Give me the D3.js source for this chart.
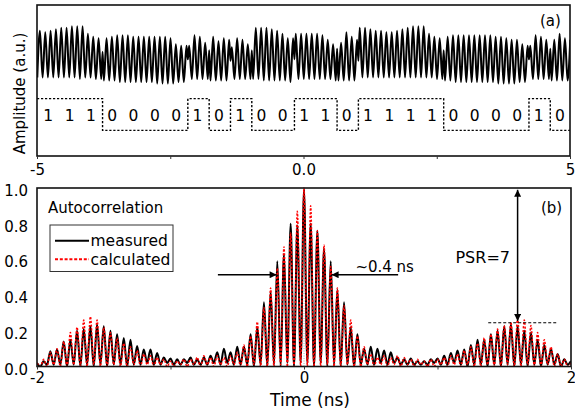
<!DOCTYPE html>
<html><head><meta charset="utf-8">
<script src="https://cdn.jsdelivr.net/npm/d3@7"></script>
<style>
body{margin:0;background:#fff}
svg{display:block}
text{font-family:"DejaVu Sans",sans-serif;fill:#000}
</style>
</head><body>
<svg id="c" width="575" height="416"></svg>
<script>
// ---------------- DATA ----------------
// (a) bit pattern (BPSK code) and carrier waveform
const bits = [1,1,1,0,0,0,0,1,0,1,0,0,1,1,0,1,1,1,1,0,0,0,0,1,0];
const bitStart = -4.97;      // ns, start of first bit
const bitDur = 0.4;          // ns per bit
const cyclesPerBit = 4;      // carrier cycles per bit
const waveLead = 0.52;       // level before first crest
// upper extremum of each carrier cycle (a.u.)
const waveUpper = [
 0.83,0.82,0.83,0.84, 0.85,0.85,0.86,0.86, 0.86,0.81,0.79,0.78, 0.78,0.79,0.80,0.80, 0.80,0.79,0.79,0.79,
 0.79,0.79,0.79,0.79, 0.78,0.74,0.73,0.73, 0.73,0.80,0.79,0.75, 0.79,0.76,0.78,0.77, 0.72,0.78,0.77,0.74,
 0.85,0.85,0.85,0.84, 0.83,0.81,0.78,0.78, 0.81,0.81,0.81,0.81, 0.81,0.80,0.77,0.74, 0.75,0.82,0.79,0.77,
 0.85,0.85,0.84,0.83, 0.83,0.82,0.82,0.83, 0.84,0.85,0.86,0.86, 0.86,0.81,0.79,0.78, 0.79,0.80,0.80,0.80,
 0.80,0.80,0.80,0.80, 0.80,0.79,0.79,0.78, 0.77,0.77,0.74,0.73, 0.73,0.80,0.79,0.77, 0.77,0.81,0.78,0.77
];
// lower extremum of each carrier cycle (a.u.)
const waveLower = [
 0.52,0.52,0.52,0.52, 0.52,0.52,0.52,0.51, 0.52,0.52,0.51,0.51, 0.50,0.50,0.50,0.49, 0.49,0.49,0.49,0.49,
 0.49,0.49,0.48,0.48, 0.48,0.48,0.49,0.49, 0.51,0.51,0.51,0.51, 0.50,0.50,0.50,0.50, 0.51,0.51,0.51,0.51,
 0.51,0.51,0.50,0.50, 0.50,0.50,0.50,0.49, 0.51,0.51,0.51,0.51, 0.51,0.51,0.51,0.50, 0.50,0.50,0.50,0.50,
 0.52,0.52,0.52,0.52, 0.52,0.52,0.52,0.52, 0.52,0.52,0.52,0.52, 0.52,0.52,0.51,0.51, 0.50,0.50,0.49,0.49,
 0.49,0.49,0.49,0.49, 0.49,0.49,0.48,0.48, 0.48,0.48,0.49,0.49, 0.51,0.51,0.51,0.51, 0.50,0.50,0.50,0.50
];
// level of the glitch at each phase flip (bit transition)
const waveGlitch = [0.69,0.64,0.70,0.63,0.70,0.64,0.71,0.63,0.70,0.64,0.71];
const bitHigh = 0.38, bitLow = 0.17;   // a.u. levels of dashed code trace

// (b) autocorrelation lobes, lag = k*lagStep, k = -40..40
const lagStep = 0.05;
const acfMeasuredPeaks = [
 0.02,0.03,0.085,0.095,0.14,0.15,0.20,0.21,0.225,0.235,
 0.225,0.20,0.18,0.16,0.15,0.115,0.095,0.095,0.075,0.05,
 0.045,0.04,0.04,0.05,0.04,0.05,0.06,0.08,0.10,0.08,
 0.11,0.11,0.18,0.22,0.36,0.42,0.59,0.63,0.80,0.79,
 0.99,
 0.80,0.76,0.66,0.59,0.43,0.36,0.22,0.18,0.10,0.11,
 0.10,0.09,0.08,0.05,0.04,0.045,0.03,0.03,0.04,0.045,
 0.06,0.075,0.09,0.095,0.12,0.15,0.15,0.18,0.20,0.225,
 0.235,0.225,0.20,0.19,0.15,0.12,0.10,0.07,0.04,0.03
];
const acfMeasuredMins = [
 0.00,0.01,0.01,0.01,0.00,0.01,0.00,0.01,0.00,0.01,
 0.00,0.01,0.01,0.00,0.01,0.01,0.02,0.01,0.01,0.02,
 0.01,0.01,0.02,0.01,0.01,0.01,0.02,0.01,0.02,0.01,
 0.01,0.01,0.00,0.01,0.00,0.01,0.00,0.02,0.00,0.02,
 0.02,0.00,0.02,0.00,0.01,0.00,0.01,0.00,0.01,0.01,
 0.01,0.02,0.01,0.02,0.01,0.01,0.01,0.01,0.01,0.02,
 0.01,0.01,0.02,0.01,0.00,0.01,0.01,0.00,0.01,0.00,
 0.01,0.00,0.01,0.00,0.01,0.00,0.01,0.01,0.00,0.01
];
const acfCalcPeaks = [
 0.02,0.04,0.08,0.10,0.14,0.19,0.22,0.26,0.28,0.26,
 0.22,0.19,0.16,0.13,0.11,0.09,0.07,0.06,0.05,0.04,
 0.03,0.03,0.04,0.04,0.05,0.06,0.05,0.06,0.05,0.06,
 0.08,0.12,0.17,0.25,0.33,0.44,0.55,0.67,0.75,0.87,
 1.00,
 0.90,0.76,0.68,0.56,0.44,0.34,0.26,0.17,0.11,0.07,
 0.05,0.06,0.05,0.06,0.05,0.04,0.04,0.03,0.04,0.04,
 0.05,0.06,0.07,0.09,0.11,0.13,0.16,0.18,0.21,0.23,
 0.25,0.27,0.26,0.23,0.19,0.15,0.11,0.07,0.04,0.02
];
const acfCalcMins = [
 0.00,0.00,0.01,0.00,0.00,0.01,0.00,0.00,0.01,0.00,
 0.00,0.01,0.00,0.00,0.01,0.00,0.01,0.00,0.01,0.00,
 0.00,0.01,0.00,0.01,0.00,0.01,0.00,0.01,0.00,0.01,
 0.00,0.00,0.01,0.00,0.00,0.00,0.01,0.00,0.00,0.00,
 0.00,0.00,0.00,0.01,0.00,0.00,0.01,0.00,0.00,0.01,
 0.00,0.01,0.00,0.01,0.00,0.01,0.00,0.01,0.00,0.00,
 0.01,0.00,0.01,0.00,0.01,0.00,0.00,0.01,0.00,0.00,
 0.01,0.00,0.00,0.01,0.00,0.00,0.01,0.00,0.00,0.00
];

// ticks
const topTicks = [-5,-2.5,0,2.5,5];
const topTickLabels = {"-5":"-5","0":"0.0","5":"5"};
const botXTicks = [-2,-1,0,1,2];
const botXTickLabels = {"-2":"-2","0":"0","2":"2"};
const botYTicks = [0,0.2,0.4,0.6,0.8,1.0];

// annotations (data units of panel b)
const psrLevel = 0.245, psrLag = 1.6;
const widthArrowLevel = 0.514;

// ---------------- DRAW ----------------
const svg = d3.select("#c");
const defs = svg.append("defs");
defs.append("marker").attr("id","ah").attr("viewBox","0 0 10 10")
  .attr("refX",10).attr("refY",5).attr("markerWidth",9).attr("markerHeight",7)
  .attr("markerUnits","userSpaceOnUse").attr("orient","auto-start-reverse")
  .append("path").attr("d","M0,0L10,5L0,10z").attr("fill","#000");

// ---- panel (a) ----
const A = {l:37, r:570, t:5, b:156};
const xTop = d3.scaleLinear().domain([-5,5]).range([A.l,A.r]);
const yTop = d3.scaleLinear().domain([0,1]).range([A.b,A.t]);
defs.append("clipPath").attr("id","clipA").append("rect")
  .attr("x",A.l).attr("y",A.t).attr("width",A.r-A.l).attr("height",A.b-A.t);

const cycle = bitDur / cyclesPerBit;
const wavePts = [[bitStart - cycle/4, waveLead]];
let gi = 0;
bits.forEach((b,i)=>{
  const tb = bitStart + i*bitDur;
  if (i>0 && bits[i-1]!==b) wavePts.push([tb, waveGlitch[gi++]]);
  for (let j=0;j<cyclesPerBit;j++){
    const idx = i*cyclesPerBit + j;
    const first = b===1 ? waveUpper[idx] : waveLower[idx];
    const second = b===1 ? waveLower[idx] : waveUpper[idx];
    wavePts.push([tb+(j+0.25)*cycle, first]);
    wavePts.push([tb+(j+0.75)*cycle, second]);
  }
});
const gA = svg.append("g").attr("clip-path","url(#clipA)");
gA.append("path").datum(wavePts)
  .attr("d", d3.line().x(d=>xTop(d[0])).y(d=>yTop(d[1])).curve(d3.curveMonotoneX))
  .attr("fill","none").attr("stroke","#000").attr("stroke-width",2);

// code trace
const codePts = [[-5, bits[0]?bitHigh:bitLow]];
bits.forEach((b,i)=>codePts.push([bitStart+i*bitDur, b?bitHigh:bitLow]));
codePts.push([bitStart+bits.length*bitDur, bits[bits.length-1]?bitHigh:bitLow]);
gA.append("path").datum(codePts)
  .attr("d", d3.line().x(d=>xTop(d[0])).y(d=>yTop(d[1])).curve(d3.curveStepAfter))
  .attr("fill","none").attr("stroke","#000").attr("stroke-width",1.4).attr("stroke-dasharray","2.2,1.8");
svg.append("g").selectAll("text").data(bits).join("text")
  .attr("x",(b,i)=>xTop(bitStart+(i+0.5)*bitDur)-1)
  .attr("y",yTop((bitHigh+bitLow)/2)+6.5)
  .attr("text-anchor","middle").attr("font-size",15.5).text(b=>b);

// frame + axis
svg.append("rect").attr("x",A.l).attr("y",A.t).attr("width",A.r-A.l).attr("height",A.b-A.t)
  .attr("fill","none").attr("stroke","#111").attr("stroke-width",1.6);
const axA = svg.append("g").attr("transform",`translate(0,${A.b})`)
  .call(d3.axisBottom(xTop).tickValues(topTicks).tickSize(3).tickPadding(5)
    .tickFormat(d=>topTickLabels[String(d)]||""));
axA.select(".domain").remove();
axA.selectAll("text").attr("font-size",15).attr("font-family","DejaVu Sans").attr("fill","#000");
axA.selectAll("line").attr("stroke","#333").attr("stroke-width",1);
svg.append("text").attr("transform",`translate(24.5,${(A.t+A.b)/2+13}) rotate(-90)`)
  .attr("text-anchor","middle").attr("font-size",15).text("Amplitude (a.u.)");
svg.append("text").attr("x",540).attr("y",25.5).attr("font-size",15).text("(a)");

// ---- panel (b) ----
const B = {l:37, r:571, t:188, b:366.5};
const xBot = d3.scaleLinear().domain([-2,2]).range([B.l,B.r]);
const yBot = d3.scaleLinear().domain([0,1]).range([B.b,B.t]);
defs.append("clipPath").attr("id","clipB").append("rect")
  .attr("x",B.l).attr("y",B.t-2).attr("width",B.r-B.l).attr("height",B.b-B.t+2);
const gB = svg.append("g").attr("clip-path","url(#clipB)");

gB.append("line").attr("x1",xBot(0)).attr("x2",xBot(0)).attr("y1",B.t).attr("y2",B.b)
  .attr("stroke","#999").attr("stroke-width",0.8).attr("stroke-dasharray","1,1.5");

function lobes(peaks, mins){
  const pts = [];
  const n = (peaks.length-1)/2;
  peaks.forEach((p,i)=>{
    pts.push([(i-n)*lagStep, p]);
    if (i < mins.length) pts.push([(i-n+0.5)*lagStep, mins[i]]);
  });
  return pts;
}
const lineB = d3.line().x(d=>xBot(d[0])).y(d=>yBot(d[1])).curve(d3.curveMonotoneX);
gB.append("path").datum(lobes(acfMeasuredPeaks, acfMeasuredMins)).attr("d",lineB)
  .attr("fill","none").attr("stroke","#000").attr("stroke-width",2);
gB.append("path").datum(lobes(acfCalcPeaks, acfCalcMins)).attr("d",lineB)
  .attr("fill","none").attr("stroke","#ff0000").attr("stroke-width",1.5).attr("stroke-dasharray","2.2,1.6");

svg.append("rect").attr("x",B.l).attr("y",B.t).attr("width",B.r-B.l).attr("height",B.b-B.t)
  .attr("fill","none").attr("stroke","#111").attr("stroke-width",1.6);
const axBx = svg.append("g").attr("transform",`translate(0,${B.b})`)
  .call(d3.axisBottom(xBot).tickValues(botXTicks).tickSize(3).tickPadding(3)
    .tickFormat(d=>botXTickLabels[String(d)]||""));
axBx.select(".domain").remove();
axBx.selectAll("text").attr("font-size",15).attr("font-family","DejaVu Sans").attr("fill","#000");
axBx.selectAll("line").attr("stroke","#333");
const axBy = svg.append("g").attr("transform",`translate(${B.l},0)`)
  .call(d3.axisLeft(yBot).tickValues(botYTicks).tickSize(0).tickPadding(9).tickFormat(d3.format(".1f")));
axBy.select(".domain").remove();
axBy.selectAll("text").attr("font-size",15).attr("font-family","DejaVu Sans").attr("fill","#000").attr("dy","0.5em");

svg.append("text").attr("x",310).attr("y",406).attr("text-anchor","middle").attr("font-size",17).text("Time (ns)");
svg.append("text").attr("x",xBot(-1.918)).attr("y",yBot(0.858)).attr("font-size",15).text("Autocorrelation");
svg.append("text").attr("x",xBot(1.775)).attr("y",yBot(0.86)).attr("font-size",15).text("(b)");

// legend
const lg = svg.append("g");
lg.append("rect").attr("x",50).attr("y",225).attr("width",123).attr("height",46.5)
  .attr("fill","#fff").attr("stroke","#333").attr("stroke-width",1);
lg.append("line").attr("x1",55).attr("x2",89).attr("y1",240.7).attr("y2",240.7)
  .attr("stroke","#000").attr("stroke-width",2);
lg.append("line").attr("x1",55).attr("x2",89).attr("y1",259.3).attr("y2",259.3)
  .attr("stroke","#ff0000").attr("stroke-width",2).attr("stroke-dasharray","3,1.8");
lg.append("text").attr("x",90.5).attr("y",246.3).attr("font-size",15.5).text("measured");
lg.append("text").attr("x",90.5).attr("y",265).attr("font-size",15.5).text("calculated");

// width arrows
svg.append("line").attr("x1",xBot(-0.645)).attr("x2",xBot(-0.205))
  .attr("y1",yBot(widthArrowLevel)).attr("y2",yBot(widthArrowLevel))
  .attr("stroke","#000").attr("stroke-width",1.5).attr("marker-end","url(#ah)");
svg.append("line").attr("x1",xBot(0.705)).attr("x2",xBot(0.207))
  .attr("y1",yBot(widthArrowLevel)).attr("y2",yBot(widthArrowLevel))
  .attr("stroke","#000").attr("stroke-width",1.5).attr("marker-end","url(#ah)");
svg.append("text").attr("x",xBot(0.385)).attr("y",yBot(0.531)).attr("font-size",15).text("~0.4 ns");

// PSR
svg.append("line").attr("x1",xBot(1.38)).attr("x2",xBot(1.9))
  .attr("y1",yBot(psrLevel)).attr("y2",yBot(psrLevel))
  .attr("stroke","#000").attr("stroke-width",1.2).attr("stroke-dasharray","3,2");
svg.append("line").attr("x1",xBot(psrLag)).attr("x2",xBot(psrLag))
  .attr("y1",yBot(0.99)).attr("y2",yBot(psrLevel+0.01))
  .attr("stroke","#000").attr("stroke-width",1.5)
  .attr("marker-start","url(#ah)").attr("marker-end","url(#ah)");
svg.append("text").attr("x",xBot(1.543)).attr("y",yBot(0.581)).attr("text-anchor","end")
  .attr("font-size",16).text("PSR=7");
</script>
</body></html>
